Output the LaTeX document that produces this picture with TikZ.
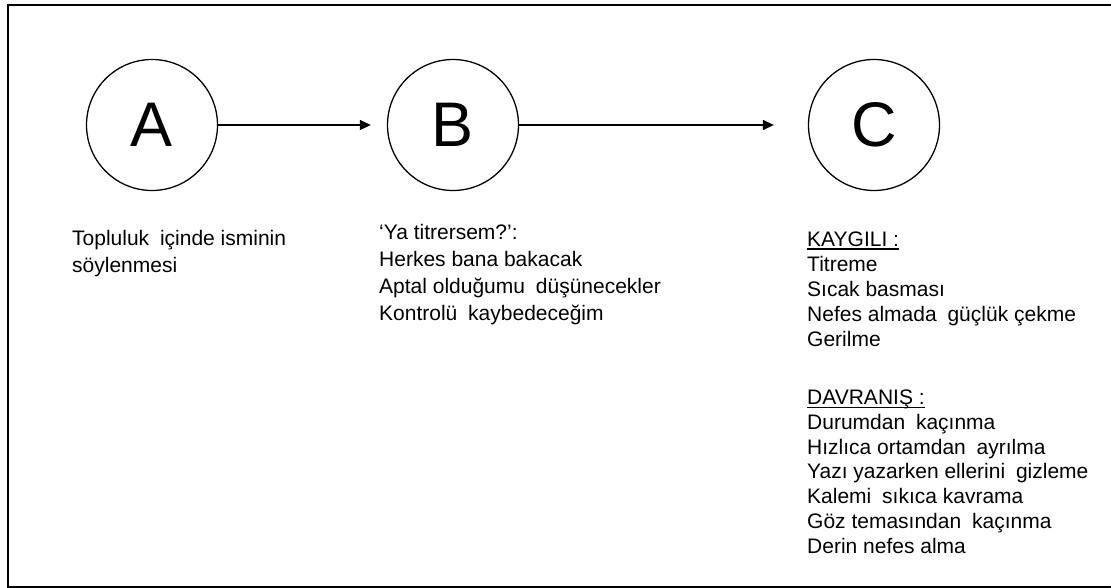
\documentclass[tikz,border=0pt]{standalone}
\usepackage{fontspec}
\setmainfont{Liberation Sans}
\usetikzlibrary{arrows.meta}
\newcommand\headul[1]{\setbox0\hbox{#1}\rlap{\vrule height -2.2pt depth 3.6pt width \wd0}#1}
\newcommand\wsp{\hspace{5pt}}
\begin{document}
\begin{tikzpicture}[x=1pt,y=-1pt,
  stage/.style={circle,draw,line width=1.3pt,minimum size=131pt,inner sep=0pt,font=\fontsize{63}{63}\selectfont},
  flow/.style={line width=1.3pt,-{Triangle[length=11pt,width=10pt]}},
  body/.style={anchor=base west,inner sep=0pt,align=left},
  frame/.style={line width=2pt}]
\useasboundingbox (0,0) rectangle (1111,588);
% frame (open on the right)
\draw[frame] (1120,5) -- (8,5) -- (8,587) -- (1120,587);
% stages
\node[stage] (A) at (152,125) {A};
\node[stage] (B) at (453,125) {B};
\node[stage] (C) at (874,125) {C};
% connectors
\draw[flow,shorten >=16pt] (A) -- (B);
\draw[flow,shorten >=34pt] (B) -- (C);
% texts (anchored at the baseline of their last line)
\node[body,font=\fontsize{21}{27}\selectfont] (ta) at (72,272)
  {Topluluk\wsp{} içinde isminin\\söylenmesi};
\node[body,font=\fontsize{21}{27}\selectfont] (tb) at (379,320)
  {‘Ya titrersem?’:\\Herkes bana bakacak\\Aptal olduğumu\wsp{} düşünecekler\\Kontrolü\wsp{} kaybedeceğim};
\node[body,font=\fontsize{21}{25}\selectfont] (tc1) at (807,346)
  {\headul{KAYGILI :}\\Titreme\\Sıcak basması\\Nefes almada\wsp{} güçlük çekme\\Gerilme};
\node[body,font=\fontsize{21}{24.7}\selectfont] (tc2) at (807,553)
  {\headul{DAVRANIŞ :}\\Durumdan\wsp{} kaçınma\\Hızlıca ortamdan\wsp{} ayrılma\\Yazı yazarken ellerini\wsp{} gizleme\\Kalemi\wsp{} sıkıca kavrama\\Göz temasından\wsp{} kaçınma\\Derin nefes alma};
\end{tikzpicture}
\end{document}
